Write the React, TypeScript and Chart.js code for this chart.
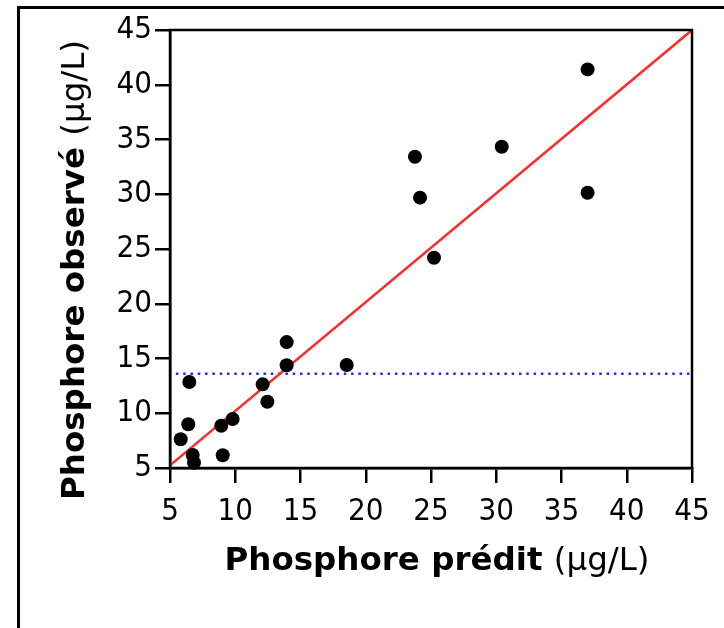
import React, { useEffect, useRef } from "react";
import { Chart, registerables } from "chart.js";

Chart.register(...registerables);

// Observed vs predicted phosphorus (µg/L)
const predicted = [37.0, 37.0, 30.42, 23.77, 24.16, 25.23, 18.54, 13.94, 13.94, 12.1, 12.46, 9.8, 8.93, 9.04, 6.48, 6.4, 5.82, 6.74, 6.84];
const observed = [41.4, 30.14, 34.34, 33.43, 29.69, 24.2, 14.4, 16.5, 14.38, 12.64, 11.05, 9.47, 8.86, 6.16, 12.85, 8.99, 7.62, 6.19, 5.48];

// Reference line (red) end points
const lineX = [5, 45];
const lineY = [5.25, 45];

// Threshold line (blue dotted)
const thresholdX = [5.45, 45];
const thresholdY = [13.6, 13.6];

const axisMin = 5;
const axisMax = 45;
const axisStep = 5;

const xTitleBold = "Phosphore prédit";
const yTitleBold = "Phosphore observé";
const unitText = "(µg/L)";

const TICK_FONT = "'Liberation Sans Narrow', 'DejaVu Sans Condensed', sans-serif";
const BOLD_FONT = "bold 32.5px 'DejaVu Sans', Verdana, sans-serif";
const REG_FONT = "32.5px 'DejaVu Sans', Verdana, sans-serif";

function drawMixed(ctx: CanvasRenderingContext2D, cx: number, cy: number, rotate: boolean) {
  ctx.save();
  ctx.translate(cx, cy);
  if (rotate) ctx.rotate(-Math.PI / 2);
  ctx.fillStyle = "#000";
  ctx.textBaseline = "middle";
  ctx.textAlign = "left";
  ctx.font = BOLD_FONT;
  const bold = rotate ? yTitleBold : xTitleBold;
  const wb = ctx.measureText(bold + " ").width;
  ctx.font = REG_FONT;
  const wr = ctx.measureText(unitText).width;
  const start = -(wb + wr) / 2;
  ctx.font = BOLD_FONT;
  ctx.fillText(bold, start, 0);
  ctx.font = REG_FONT;
  ctx.fillText(unitText, start + wb, 0);
  ctx.restore();
}

const decorPlugin = {
  id: "decor",
  beforeDraw(chart: any) {
    const ctx = chart.ctx as CanvasRenderingContext2D;
    ctx.save();
    ctx.fillStyle = "#fff";
    ctx.fillRect(0, 0, chart.width, chart.height);
    ctx.strokeStyle = "#000";
    ctx.lineWidth = 3;
    ctx.strokeRect(18.5, 7.5, chart.width + 20, chart.height + 20);
    ctx.restore();
  },
  afterDraw(chart: any) {
    const ctx = chart.ctx as CanvasRenderingContext2D;
    const a = chart.chartArea;
    ctx.save();
    ctx.strokeStyle = "#000";
    ctx.lineWidth = 2.5;
    ctx.strokeRect(a.left, a.top, a.right - a.left, a.bottom - a.top);
    ctx.restore();
    drawMixed(ctx, 437, 562, false);
    drawMixed(ctx, 76, 270, true);
  },
};

export default function App() {
  const ref = useRef<HTMLCanvasElement | null>(null);
  useEffect(() => {
    if (!ref.current) return;
    const pts = predicted.map((x, i) => ({ x, y: observed[i] }));
    const red = lineX.map((x, i) => ({ x, y: lineY[i] }));
    const blue = thresholdX.map((x, i) => ({ x, y: thresholdY[i] }));
    const tickCfg = {
      color: "#000",
      font: { family: TICK_FONT, size: 31 },
    };
    const chart = new Chart(ref.current, {
      type: "scatter",
      data: {
        datasets: [
          {
            data: pts,
            backgroundColor: "#000",
            borderColor: "#000",
            pointRadius: 7,
            pointHoverRadius: 7,
            borderWidth: 0,
            showLine: false,
            clip: false,
          } as any,
          {
            data: red,
            showLine: true,
            borderColor: "#ff2a2a",
            borderWidth: 2.5,
            pointRadius: 0,
          },
          {
            data: blue,
            showLine: true,
            borderColor: "#2a2aee",
            borderWidth: 2.5,
            borderDash: [2.5, 4.8],
            pointRadius: 0,
          },
        ],
      },
      options: {
        responsive: false,
        animation: false,
        events: [],
        layout: { padding: { top: 30, right: 32, left: 0, bottom: 0 } },
        plugins: { legend: { display: false }, tooltip: { enabled: false } },
        scales: {
          x: {
            type: "linear",
            min: axisMin,
            max: axisMax,
            ticks: { ...tickCfg, stepSize: axisStep, padding: 10, maxRotation: 0 },
            grid: { drawOnChartArea: false, drawTicks: true, tickLength: 15, color: "#000", lineWidth: 2.5 },
            border: { display: true, color: "#000", width: 2.5 },
            afterFit: (s: any) => {
              s.height = 160;
            },
          },
          y: {
            type: "linear",
            min: axisMin,
            max: axisMax,
            ticks: { ...tickCfg, stepSize: axisStep, padding: 3 },
            grid: { drawOnChartArea: false, drawTicks: true, tickLength: 15, color: "#000", lineWidth: 2.5 },
            border: { display: true, color: "#000", width: 2.5 },
            afterFit: (s: any) => {
              s.width = 170;
            },
          },
        },
      },
      plugins: [decorPlugin],
    });
    return () => chart.destroy();
  }, []);
  return (
    <div style={{ position: "fixed", left: 0, top: 0, width: 724, height: 628, background: "#fff" }}>
      <canvas ref={ref} width={724} height={628} style={{ display: "block" }} />
    </div>
  );
}
